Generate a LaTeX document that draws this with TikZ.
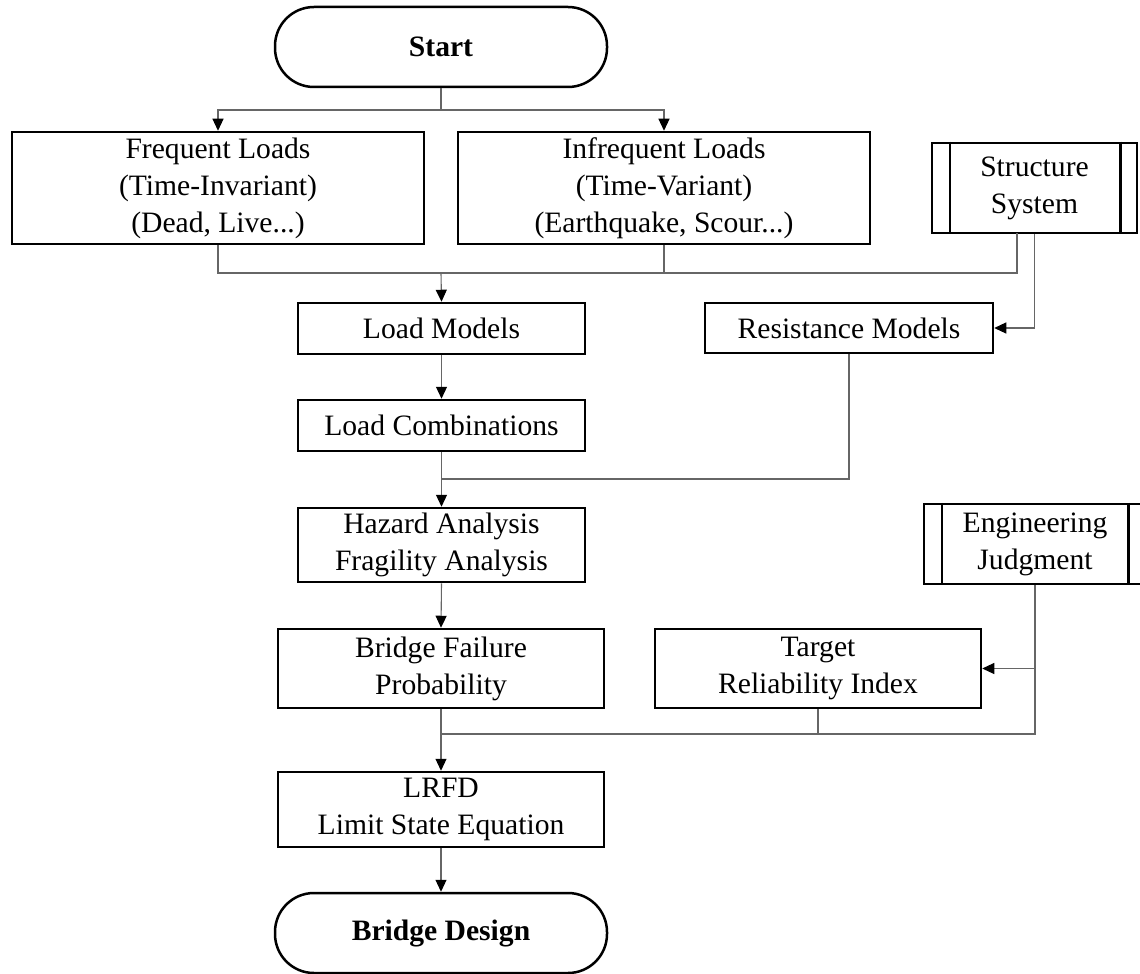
\documentclass[tikz,border=0pt]{standalone}
\usepackage{fontspec}
\setmainfont{Liberation Serif}
\usetikzlibrary{arrows.meta}
\begin{document}
\begin{tikzpicture}[x=0.5pt,y=-0.5pt,
  box/.style={draw, line width=1.25pt, rectangle, align=center, inner sep=0pt,
    font=\fontsize{14.8pt}{18.5pt}\selectfont},
  term/.style={box, rounded corners=19.5pt, font=\fontsize{14.8pt}{18.5pt}\selectfont\bfseries},
  conn/.style={draw=black!60, line width=0.55pt},
  arr/.style={conn, -{Triangle[length=6pt,width=5.5pt,color=black]}},
  bar/.style={line width=1.25pt}
]
\useasboundingbox (0,0) rectangle (1140,974);

% nodes
\node[term, minimum width=166pt, minimum height=40pt] (start) at (441,47) {Start};
\node[box, minimum width=206pt, minimum height=56pt] (freq) at (218,188)
  {Frequent Loads\\(Time-Invariant)\\(Dead, Live...)};
\node[box, minimum width=206pt, minimum height=56pt] (infreq) at (664,188)
  {Infrequent Loads\\(Time-Variant)\\(Earthquake, Scour...)};
\node[box, minimum width=102.5pt, minimum height=45pt] (struct) at (1034.5,188)
  {Structure\\System};
\draw[bar] ([xshift=9.5pt]struct.north west) -- ([xshift=9.5pt]struct.south west);
\draw[bar] ([xshift=-9pt]struct.north east) -- ([xshift=-9pt]struct.south east);

\node[box, minimum width=143.5pt, minimum height=25.5pt] (loadm) at (441.5,328.5) {Load Models};
\node[box, minimum width=144pt, minimum height=25pt] (resm) at (849,328) {Resistance Models};
\node[box, minimum width=143.5pt, minimum height=25.5pt] (loadc) at (441.5,425.5) {Load Combinations};
\node[box, minimum width=143.5pt, minimum height=37pt] (hazard) at (441.5,545)
  {Hazard Analysis\\Fragility Analysis};
\node[box, minimum width=163pt, minimum height=39.5pt] (bfp) at (441,668.5)
  {Bridge Failure\\Probability};
\node[box, minimum width=163pt, minimum height=39.5pt] (target) at (818,668.5)
  {Target\\Reliability Index};
\node[box, minimum width=111pt, minimum height=40pt] (ej) at (1035,544)
  {Engineering\\Judgment};
\draw[bar] ([xshift=9.5pt]ej.north west) -- ([xshift=9.5pt]ej.south west);
\draw[bar] ([xshift=-9.5pt]ej.north east) -- ([xshift=-9.5pt]ej.south east);
\node[box, minimum width=163pt, minimum height=37.5pt] (lrfd) at (441,809.5)
  {LRFD\\Limit State Equation};
\node[term, minimum width=166pt, minimum height=40pt] (design) at (441,933) {Bridge Design};

% junction coordinates
\coordinate (j1) at (441,110);
\coordinate (j2) at (441,273);
\coordinate (j3) at (441,479);
\coordinate (j4) at (441,734);
\coordinate (sgray) at (1017,233);

% connectors
\draw[conn] (start.south) -- (j1);
\draw[arr] (j1) -| (freq.north);
\draw[arr] (j1) -| (infreq.north);

\draw[conn] (freq.south) -- (freq.south |- j2) -| (sgray);
\draw[conn] (infreq.south) -- (infreq.south |- j2);
\draw[arr] (j2) -- (loadm.north);
\draw[arr] (struct.south) |- (resm.east);

\draw[arr] (loadm.south) -- (loadc.north);
\draw[conn] (resm.south) |- (j3);
\draw[arr] (loadc.south) -- (hazard.north);
\draw[arr] (hazard.south) -- (bfp.north);

\draw[conn] (ej.south) |- (j4);
\draw[arr] (ej.south |- target.east) -- (target.east);
\draw[conn] (target.south) -- (target.south |- j4);
\draw[arr] (bfp.south) -- (lrfd.north);
\draw[arr] (lrfd.south) -- (design.north);
\end{tikzpicture}
\end{document}
